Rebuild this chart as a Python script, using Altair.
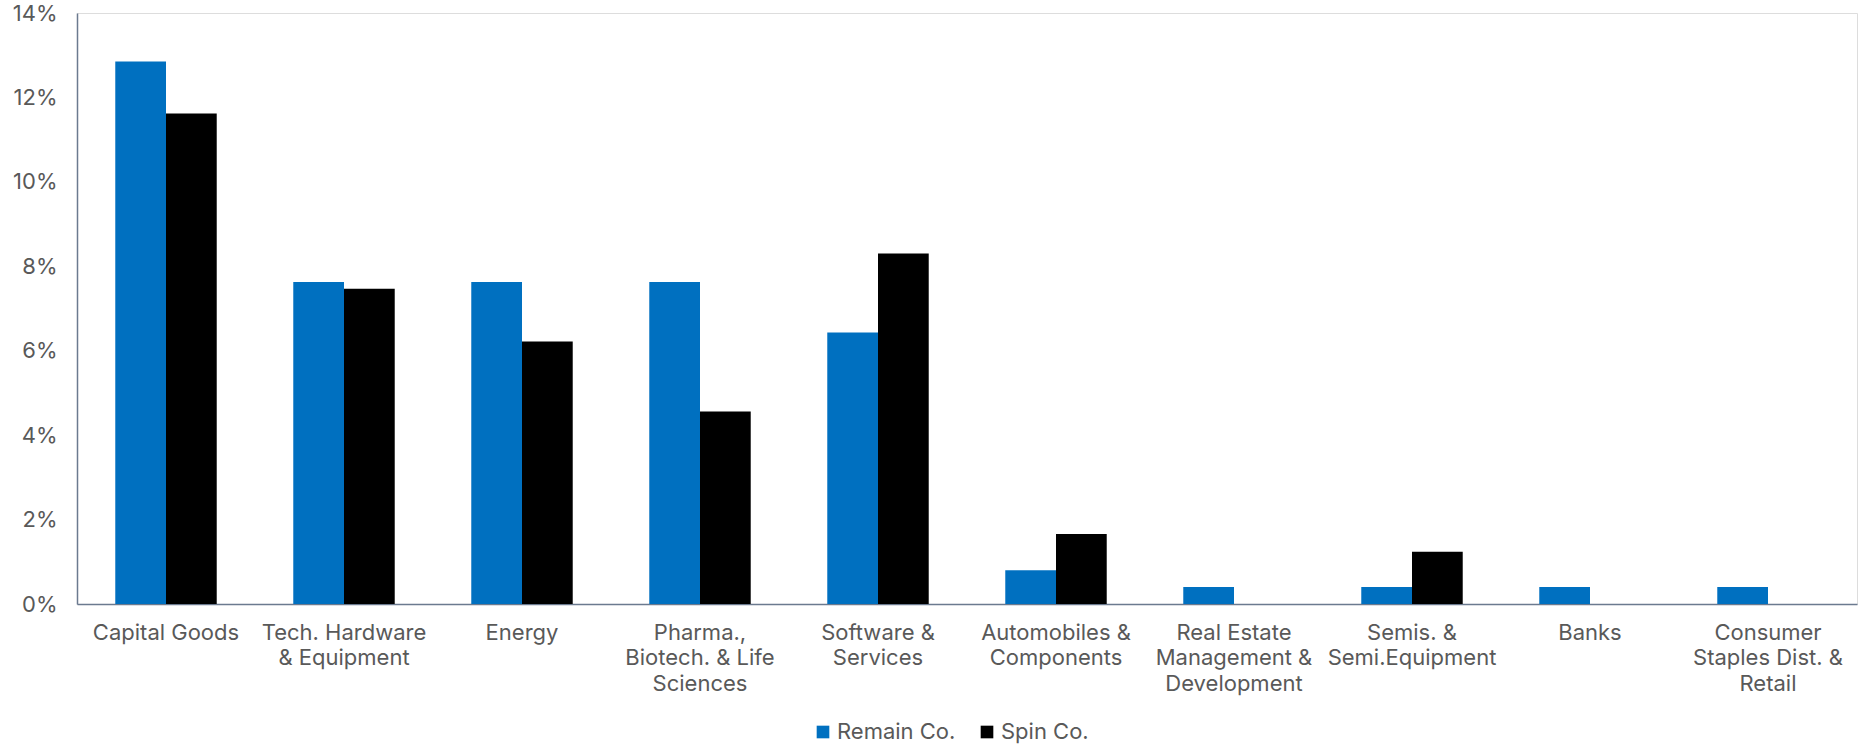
import altair as alt
import pandas as pd

categories = [
    "Capital Goods",
    "Tech. Hardware\n& Equipment",
    "Energy",
    "Pharma.,\nBiotech. & Life\nSciences",
    "Software &\nServices",
    "Automobiles &\nComponents",
    "Real Estate\nManagement &\nDevelopment",
    "Semis. &\nSemi.Equipment",
    "Banks",
    "Consumer\nStaples Dist. &\nRetail",
]
series = ["Remain Co.", "Spin Co."]
remain_values = [12.85, 7.63, 7.63, 7.63, 6.43, 0.80, 0.40, 0.40, 0.40, 0.40]
spin_values = [11.62, 7.47, 6.22, 4.56, 8.30, 1.66, 0.0, 1.24, 0.0, 0.0]
y_ticks = [0, 2, 4, 6, 8, 10, 12, 14]
colors = ["#0070C0", "#000000"]

rows = []
for c, r, s in zip(categories, remain_values, spin_values):
    rows.append({"category": c, "series": series[0], "value": r})
    rows.append({"category": c, "series": series[1], "value": s})
df = pd.DataFrame(rows)

FONT = "Inter"
TXT = "#595959"
AX = "#6B7A8F"
FS = 22

chart = (
    alt.Chart(df)
    .mark_bar()
    .encode(
        x=alt.X(
            "category:N",
            sort=categories,
            title=None,
            scale=alt.Scale(paddingInner=0.43, paddingOuter=0.215),
            axis=alt.Axis(
                labelExpr="split(datum.value, '\\n')",
                labelAngle=0,
                ticks=False,
                labelPadding=18,
                labelFontSize=FS,
                labelLineHeight=25.5,
                labelColor=TXT,
                labelFont=FONT,
                labelBaseline="top",
                domainColor=AX,
                domainWidth=1.5,
                labelLimit=400,
            ),
        ),
        xOffset=alt.XOffset(
            "series:N",
            sort=series,
            scale=alt.Scale(paddingInner=0, paddingOuter=0),
        ),
        y=alt.Y(
            "value:Q",
            title=None,
            scale=alt.Scale(domain=[0, 14], nice=False),
            axis=alt.Axis(
                values=y_ticks,
                labelExpr="datum.value + '%'",
                grid=False,
                ticks=False,
                labelPadding=20,
                labelFontSize=FS,
                labelColor=TXT,
                labelFont=FONT,
                domainColor=AX,
                domainWidth=1.5,
            ),
        ),
        color=alt.Color(
            "series:N",
            sort=series,
            scale=alt.Scale(domain=series, range=colors),
            legend=alt.Legend(
                title=None,
                orient="none",
                direction="horizontal",
                legendX=735,
                legendY=708,
                symbolType="square",
                symbolSize=160,
                symbolStrokeWidth=0,
                symbolOffset=0,
                labelFontSize=FS,
                labelFont=FONT,
                labelColor=TXT,
                labelOffset=3,
                columnPadding=20,
            ),
        ),
    )
    .properties(
        width=1780,
        height=591,
        autosize=alt.AutoSizeParams(type="none"),
        padding={"left": 77, "top": 13, "right": 3, "bottom": 140},
    )
    .configure_view(stroke=None)
    .configure(background="white")
)

chart.save("out.html", embed_options={"renderer": "svg", "actions": False})
